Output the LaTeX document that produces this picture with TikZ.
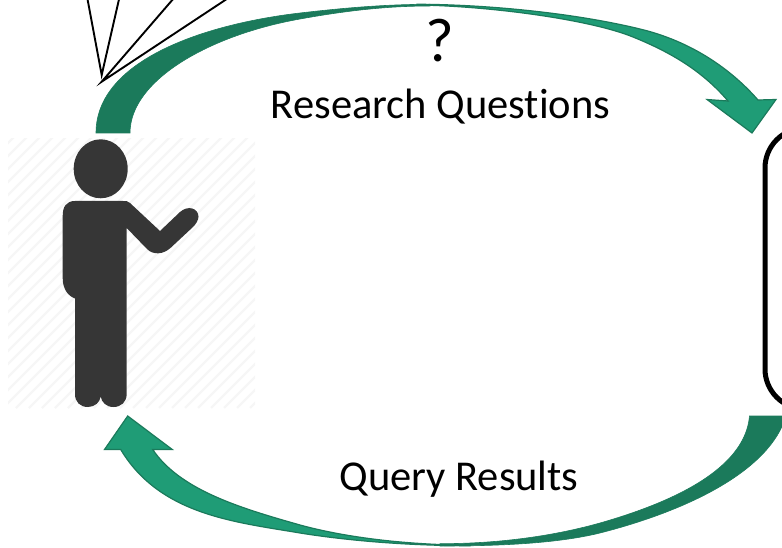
\documentclass[tikz,border=0pt]{standalone}
\usepackage{fontspec}
\setmainfont{Carlito}[Ligatures=NoCommon]
\definecolor{darkgreen}{HTML}{1B7A5B}
\definecolor{lightgreen}{HTML}{1F9C76}
\definecolor{figure}{HTML}{363636}
\definecolor{hatchgray}{HTML}{F6F6F6}
\tikzset{
  label text/.style={font=\fontsize{42.5}{42.5}\selectfont, text=black, inner sep=0pt, anchor=base},
  spike/.style={draw=black, line width=1.9pt, miter limit=20},
  back band/.style={fill=darkgreen, draw=darkgreen, line width=0.6pt},
  front band/.style={fill=lightgreen, draw=darkgreen, line width=1.2pt, line join=miter},
  hatch/.style={draw=hatchgray, line width=2.2pt},
}
\begin{document}
\begin{tikzpicture}[x=1pt,y=-1pt]
\useasboundingbox (0,0) rectangle (782,548);
\clip (0,0) rectangle (782,548);
% hatch
\begin{scope}
\clip (8,139) rectangle (255,408);
\foreach \d in {-400,-387,...,300}
  \draw[hatch] (\d,408) -- (\d+300,108);
\end{scope}
% person
\fill[figure] (100.7,168.8) ellipse [x radius=27, y radius=29.5];
\fill[figure] (62.7,278) -- (62.7,216)
  .. controls (62.7,207) and (66,201) .. (75,201)
  -- (123,201) .. controls (126,201) and (128,201) .. (130,203)
  -- (160,231) -- (180,212)
  .. controls (188,205) and (198,208) .. (198.5,216.5)
  .. controls (198.5,220) and (196,224) .. (193,227)
  -- (171,247.5) .. controls (163,255) and (153,255) .. (147,249)
  -- (126.7,228)
  -- (126.7,394)
  .. controls (126.7,402) and (121,407) .. (113.5,407)
  .. controls (106,407) and (101.5,402) .. (100.7,396.5)
  .. controls (100,402) and (95,407) .. (88,407)
  .. controls (80,407) and (75,402) .. (75,394)
  -- (75,298.5)
  .. controls (68,296) and (62.7,289) .. (62.7,278) -- cycle;
% top arrow
\path[back band] (96,133)
  .. controls (96,60) and (205,24) .. (300,13)
  .. controls (350,7.2) and (390,4.3) .. (430,4.3)
  -- (430,6)
  .. controls (390,6) and (350,10) .. (300,19)
  .. controls (210,35) and (130,80) .. (130,133) -- cycle;
\path[front band] (417,4.3)
  .. controls (480,4.3) and (570,12) .. (640,29)
  .. controls (690,41) and (730,68) .. (758,100)
  -- (776,99.5) -- (752,133) -- (707,99.5) -- (728,101)
  .. controls (700,68) and (665,50) .. (633,37)
  .. controls (590,19.5) and (490,6) .. (417,5) -- cycle;
% bottom arrow
\path[back band] (749.5,416)
  .. controls (745,470) and (670,503) .. (600,523)
  .. controls (550,537) and (495,543.7) .. (440,543.7)
  -- (440,546)
  .. controls (495,546) and (555,544) .. (600,533)
  .. controls (690,510) and (770,470) .. (786,416) -- cycle;
\path[front band] (470,545.7)
  .. controls (410,545.7) and (350,541) .. (300,533)
  .. controls (235,522) and (160,515) .. (120.7,449.5)
  -- (104.5,449.5) -- (127.7,416) -- (172.3,449.5) -- (152.7,449.5)
  .. controls (180,490) and (240,508) .. (300,525)
  .. controls (355,540) and (420,545) .. (470,545.2) -- cycle;
% spikes
\draw[spike] (87.3,-2) -- (101.7,75) -- (119.3,-2);
\draw[spike] (174,-2) -- (101.7,81.7) -- (228.3,-2);
% box
\draw[black, line width=5pt, rounded corners=40pt] (765,128) rectangle (900,409);
% labels
\node[label text, font=\fontsize{62}{62}\selectfont] (q) at (440,62) {?};
\node[label text] (rq) at (440.5,118.5) {Research Questions};
\node[label text] (qr) at (459,490) {Query Results};
\end{tikzpicture}
\end{document}
